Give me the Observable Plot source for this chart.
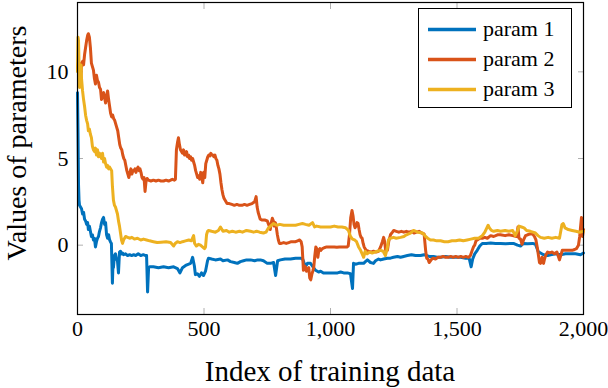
<!DOCTYPE html>
<html><head><meta charset="utf-8">
<script src="https://cdn.jsdelivr.net/npm/d3@7"></script>
<script src="https://cdn.jsdelivr.net/npm/@observablehq/plot@0.6"></script>
<style>body{margin:0;background:#fff} #chart svg{display:block}</style>
</head><body><div id="chart"></div>
<script>
const seriesNames = ["param 1", "param 2", "param 3"];
const seriesColors = ["#0072BD", "#D95319", "#EDB120"];
const xTicks = [0, 500, 1000, 1500, 2000];
const yTicks = [0, 5, 10];
const xLabel = "Index of training data";
const yLabel = "Values of parameters";

const param1 = [[0,8.8],[2,6.5],[4,3.5],[6,2.6],[8,2.3],[12,2.2],[16,2.1],[20,1.8],[24,1.9],[28,1.5],[32,1.4],[36,1.2],[40,1.3],[43,0.9],[47,1.1],[51,0.8],[55,0.5],[59,0.6],[63,0.3],[67,0.4],[71,-0.1],[75,0.2],[79,0.4],[83,0.5],[87,0.8],[91,1.0],[95,1.3],[99,1.5],[103,1.6],[107,1.2],[111,1.3],[115,0.6],[119,0.4],[123,0.6],[127,0.3],[130,0.2],[134,0.1],[138,-2.2],[140,-1.2],[142,-1.3],[146,-0.6],[150,-0.5],[154,-0.8],[158,-0.9],[162,-1.6],[164,-1.0],[166,-0.4],[170,-0.35],[174,-0.5],[178,-0.45],[182,-0.55],[190,-0.5],[198,-0.6],[206,-0.55],[214,-0.6],[222,-0.55],[230,-0.6],[240,-0.5],[250,-0.6],[260,-0.55],[269,-0.6],[273,-0.6],[277,-2.7],[281,-1.3],[285,-1.25],[300,-1.25],[320,-1.3],[340,-1.25],[360,-1.3],[380,-1.25],[395,-1.35],[405,-1.6],[415,-1.3],[430,-1.15],[447,-1.05],[455,-0.7],[462,-1.2],[466,-1.7],[474,-1.65],[482,-1.8],[490,-1.6],[498,-1.75],[506,-1.5],[514,-0.9],[518,-0.75],[530,-0.8],[545,-0.85],[565,-0.8],[575,-0.9],[593,-0.85],[605,-0.95],[620,-1.0],[632,-1.05],[644,-0.95],[656,-0.9],[668,-0.85],[684,-0.85],[700,-0.9],[712,-0.85],[723,-0.85],[735,-0.9],[750,-1.05],[763,-1.05],[775,-1.0],[783,-1.75],[791,-0.9],[802,-0.85],[820,-0.8],[842,-0.8],[862,-0.75],[882,-0.75],[890,-0.8],[901,-1.25],[909,-1.05],[921,-1.05],[933,-1.3],[941,-1.45],[953,-1.55],[961,-1.5],[972,-1.6],[988,-1.6],[1000,-1.6],[1012,-1.6],[1028,-1.6],[1040,-1.55],[1052,-1.6],[1067,-1.6],[1079,-1.65],[1087,-2.5],[1091,-1.05],[1099,-1.1],[1111,-1.05],[1119,-1.05],[1131,-1.05],[1138,-0.95],[1146,-0.85],[1158,-1.0],[1170,-1.05],[1178,-0.9],[1190,-0.8],[1198,-0.85],[1210,-0.8],[1225,-0.75],[1237,-0.75],[1249,-0.7],[1265,-0.65],[1277,-0.7],[1289,-0.65],[1304,-0.6],[1320,-0.55],[1336,-0.6],[1356,-0.6],[1370,-0.55],[1390,-0.65],[1407,-0.65],[1420,-0.7],[1435,-0.7],[1455,-0.65],[1474,-0.7],[1494,-0.7],[1514,-0.7],[1534,-0.75],[1548,-0.75],[1556,-1.25],[1562,-0.8],[1570,-0.5],[1580,-0.3],[1590,-0.05],[1600,0.1],[1615,0.1],[1633,0.12],[1652,0.1],[1672,0.1],[1692,0.08],[1712,0.1],[1723,0.1],[1739,0.0],[1751,-0.05],[1763,0.1],[1779,0.08],[1799,0.1],[1810,0.05],[1822,-0.4],[1830,-0.45],[1842,-0.55],[1858,-0.6],[1870,-0.55],[1890,-0.5],[1909,-0.55],[1929,-0.5],[1949,-0.5],[1968,-0.5],[1988,-0.55],[2000,-0.45]];

const param2 = [[0,10.2],[4,10.6],[8,10.0],[12,9.4],[16,10.5],[20,10.6],[24,10.4],[28,11.0],[32,11.4],[36,11.8],[40,12.1],[43,12.2],[47,12.0],[51,11.4],[55,10.5],[59,10.3],[63,10.1],[67,9.6],[71,9.3],[75,9.8],[79,9.5],[83,9.4],[87,9.1],[91,9.0],[95,8.4],[99,8.7],[103,8.8],[107,8.5],[111,8.2],[115,8.6],[119,8.9],[123,8.4],[127,8.0],[131,7.6],[135,7.4],[139,7.5],[143,7.3],[147,7.2],[151,7.0],[155,6.8],[159,6.6],[163,6.2],[167,5.8],[171,5.6],[175,5.5],[179,5.2],[183,5.0],[187,4.9],[191,4.6],[195,4.3],[199,4.1],[203,3.9],[207,4.2],[211,4.4],[215,4.1],[219,4.3],[223,4.3],[227,4.4],[231,4.2],[235,4.4],[239,4.5],[243,4.3],[247,4.4],[251,4.2],[255,3.9],[259,3.8],[263,3.9],[267,3.1],[271,3.7],[275,3.85],[280,3.75],[290,3.7],[300,3.75],[310,3.7],[320,3.75],[330,3.7],[340,3.7],[350,3.75],[360,3.7],[368,3.75],[375,3.8],[383,3.75],[387,3.8],[391,5.5],[395,5.9],[399,6.2],[403,5.8],[407,5.5],[411,5.4],[415,5.3],[419,5.5],[423,5.2],[427,5.2],[431,5.4],[435,5.1],[439,5.2],[443,5.0],[447,5.1],[451,4.9],[455,5.0],[459,4.8],[463,4.6],[467,4.3],[471,4.1],[475,3.9],[479,4.0],[483,3.8],[487,4.2],[491,4.0],[495,3.6],[499,4.2],[503,3.9],[507,4.7],[511,4.9],[515,5.1],[519,5.2],[523,5.15],[527,5.3],[531,5.2],[535,5.2],[539,5.1],[543,5.2],[547,5.0],[551,4.9],[555,4.6],[559,4.4],[563,4.1],[567,3.6],[571,3.2],[575,2.9],[579,2.7],[583,2.6],[587,2.5],[591,2.4],[600,2.4],[610,2.35],[620,2.3],[630,2.35],[640,2.3],[650,2.3],[660,2.35],[670,2.3],[680,2.35],[690,2.4],[700,2.5],[706,2.8],[710,2.2],[714,1.9],[718,1.7],[722,1.5],[730,1.45],[740,1.45],[750,1.4],[758,1.1],[762,0.9],[766,1.3],[770,1.55],[774,1.4],[778,1.1],[782,1.3],[786,1.0],[790,0.6],[794,0.3],[798,0.1],[805,0.1],[815,0.15],[825,0.1],[835,0.15],[845,0.2],[855,0.2],[862,0.2],[870,0.25],[878,0.3],[884,0.2],[888,-0.1],[893,-1.45],[897,-1.2],[901,-1.25],[905,-1.5],[909,-1.4],[914,-1.3],[918,-1.9],[922,-2.0],[926,-1.7],[930,-1.5],[934,-1.25],[938,-0.6],[942,-0.1],[946,-0.2],[950,-0.7],[954,-0.3],[958,-0.2],[962,-0.3],[968,-0.2],[975,-0.15],[985,-0.1],[995,-0.1],[1005,-0.1],[1015,-0.1],[1025,-0.12],[1035,-0.1],[1045,-0.1],[1055,-0.1],[1065,-0.1],[1070,-0.05],[1075,0.6],[1080,1.6],[1085,2.0],[1089,1.7],[1093,1.2],[1097,1.0],[1101,1.1],[1105,1.3],[1109,1.25],[1113,0.9],[1117,0.6],[1121,0.45],[1125,0.4],[1129,0.1],[1133,-0.1],[1137,-0.2],[1141,-0.3],[1150,-0.35],[1160,-0.4],[1170,-0.35],[1180,-0.4],[1190,-0.35],[1198,-0.1],[1205,0.2],[1210,0.45],[1214,0.2],[1218,-0.3],[1225,-0.3],[1230,0.2],[1237,0.6],[1245,0.75],[1250,0.85],[1260,0.8],[1270,0.75],[1280,0.8],[1290,0.75],[1300,0.8],[1310,0.75],[1320,0.8],[1330,0.7],[1340,0.75],[1350,0.8],[1360,0.7],[1370,0.65],[1376,-0.3],[1380,-0.75],[1385,-0.8],[1390,-1.0],[1395,-0.9],[1400,-0.8],[1407,-0.75],[1415,-0.8],[1425,-0.7],[1435,-0.7],[1445,-0.65],[1455,-0.7],[1465,-0.7],[1475,-0.65],[1485,-0.7],[1495,-0.65],[1505,-0.7],[1515,-0.65],[1525,-0.7],[1535,-0.65],[1545,-0.7],[1553,-0.6],[1560,-0.3],[1565,-0.1],[1570,0.0],[1575,0.25],[1580,0.3],[1590,0.4],[1600,0.4],[1610,0.45],[1620,0.4],[1633,0.55],[1645,0.5],[1660,0.6],[1672,0.6],[1690,0.55],[1705,0.6],[1720,0.55],[1735,0.5],[1741,1.05],[1745,0.4],[1751,0.35],[1757,0.05],[1763,0.3],[1771,0.55],[1779,0.6],[1790,0.65],[1799,0.65],[1806,0.5],[1812,0.3],[1818,-0.2],[1822,-0.6],[1826,-1.0],[1830,-1.05],[1836,-0.7],[1842,-1.05],[1846,-0.8],[1850,-0.6],[1858,-0.4],[1866,-0.45],[1875,-0.4],[1885,-0.5],[1895,-0.4],[1905,-0.85],[1910,-0.6],[1916,-0.3],[1925,-0.3],[1935,-0.3],[1945,-0.3],[1955,-0.3],[1965,-0.25],[1972,-0.2],[1980,0.0],[1985,0.5],[1988,1.0],[1992,1.6],[1996,0.5],[2000,0.9]];

const param3 = [[0,10.0],[2,12.0],[4,11.8],[6,10.5],[8,9.1],[10,10.2],[12,9.8],[14,10.4],[16,9.6],[20,8.9],[24,8.4],[28,8.0],[32,7.5],[36,7.2],[40,7.0],[43,6.6],[47,6.7],[51,6.4],[55,6.2],[59,5.7],[63,5.5],[67,5.4],[71,5.6],[75,5.2],[79,5.5],[83,5.1],[87,5.3],[91,5.2],[95,5.0],[99,5.3],[103,4.8],[107,5.0],[111,4.7],[115,4.5],[119,4.6],[123,4.4],[127,4.5],[131,4.4],[135,4.3],[138,3.4],[142,2.6],[146,2.3],[150,2.2],[154,2.0],[158,1.8],[162,1.4],[166,1.1],[170,0.7],[174,0.3],[178,0.1],[182,0.3],[186,0.4],[190,0.5],[198,0.45],[206,0.4],[215,0.45],[225,0.35],[237,0.4],[250,0.3],[261,0.35],[273,0.3],[285,0.25],[300,0.2],[315,0.15],[330,0.17],[350,0.2],[368,0.15],[380,-0.05],[386,0.1],[395,0.2],[405,0.15],[415,0.2],[427,0.25],[440,0.3],[450,0.25],[459,0.55],[463,0.1],[470,-0.05],[478,0.05],[486,0.0],[494,-0.1],[502,-0.2],[506,-0.1],[510,0.6],[514,0.8],[518,0.85],[530,0.8],[545,0.75],[557,0.85],[565,1.05],[575,0.8],[589,0.85],[600,0.75],[612,0.8],[625,0.75],[640,0.8],[652,0.75],[668,0.85],[684,0.8],[696,0.75],[708,0.8],[720,0.75],[735,0.7],[745,0.75],[755,1.0],[763,1.1],[775,1.25],[787,1.15],[800,1.2],[815,1.15],[830,1.15],[845,1.15],[862,1.15],[875,1.2],[889,1.25],[901,1.2],[915,1.15],[929,1.3],[937,1.05],[945,1.1],[961,1.05],[975,1.05],[990,1.05],[1000,1.05],[1015,1.1],[1030,1.05],[1045,1.05],[1060,1.0],[1071,0.85],[1079,0.5],[1087,0.35],[1095,0.3],[1103,0.2],[1111,-0.1],[1119,-0.3],[1131,-0.7],[1137,-0.35],[1145,-0.5],[1155,-0.4],[1165,-0.45],[1175,-0.4],[1185,-0.35],[1198,-0.3],[1208,-0.35],[1217,-0.6],[1224,-0.2],[1229,0.3],[1237,0.4],[1249,0.45],[1260,0.4],[1277,0.45],[1290,0.5],[1300,0.6],[1316,0.7],[1328,0.85],[1345,0.75],[1364,0.7],[1376,0.5],[1384,0.4],[1395,0.3],[1407,0.3],[1420,0.25],[1435,0.25],[1450,0.2],[1465,0.2],[1480,0.25],[1495,0.25],[1510,0.3],[1525,0.25],[1540,0.3],[1555,0.35],[1570,0.4],[1585,0.4],[1600,0.55],[1610,0.75],[1618,1.0],[1623,1.15],[1628,1.0],[1636,0.85],[1645,0.8],[1660,0.85],[1672,0.8],[1690,0.85],[1705,0.8],[1720,0.85],[1730,0.55],[1737,0.75],[1745,1.1],[1755,1.05],[1765,1.0],[1775,0.85],[1790,0.8],[1800,0.75],[1810,0.7],[1820,0.55],[1830,0.45],[1845,0.4],[1860,0.45],[1875,0.4],[1890,0.45],[1905,0.4],[1915,1.2],[1920,1.25],[1927,1.0],[1940,0.9],[1955,0.85],[1970,0.8],[1985,0.75],[2000,0.8]];

const seriesData = [param1, param2, param3];
const rows = seriesData.flatMap((s, i) => s.map(([x, y]) => ({series: seriesNames[i], x, y})));

const font = "'Liberation Serif', 'Times New Roman', serif";
const W = 608, H = 388, ML = 77, MR = 25, MT = 2, MB = 74;

const plot = Plot.plot({
  width: W, height: H,
  marginLeft: ML, marginRight: MR, marginTop: MT, marginBottom: MB,
  style: {fontFamily: font, fontSize: "22px", color: "black", background: "white"},
  x: {domain: [0, 2000]},
  y: {domain: [-4, 14]},
  color: {domain: seriesNames, range: seriesColors},
  marks: [
    Plot.axisX({anchor: "bottom", ticks: xTicks, tickSize: -6, stroke: "#b0b0b0", tickFormat: () => "", label: null}),
    Plot.axisX({anchor: "top", ticks: xTicks, tickSize: -6, stroke: "#b0b0b0", tickFormat: () => "", label: null}),
    Plot.axisY({anchor: "left", ticks: yTicks, tickSize: -6, stroke: "#b0b0b0", tickFormat: () => "", label: null}),
    Plot.axisY({anchor: "right", ticks: yTicks, tickSize: -6, stroke: "#b0b0b0", tickFormat: () => "", label: null}),
    Plot.axisX({anchor: "bottom", ticks: xTicks, tickSize: 0, tickPadding: 6, tickFormat: d3.format(","), label: null, fill: "black", fontFamily: font, fontSize: 22}),
    Plot.axisY({anchor: "left", ticks: yTicks, tickSize: 0, tickPadding: 9, label: null, fill: "black", fontFamily: font, fontSize: 22}),
    Plot.line(rows, {x: "x", y: "y", stroke: "series", z: "series", strokeWidth: 3, strokeLinejoin: "round"}),
    Plot.frame({stroke: "black", strokeWidth: 1.2})
  ]
});

document.getElementById("chart").append(plot);

const svg = d3.select(plot);
const cx = (ML + (W - MR)) / 2;

svg.append("text").attr("x", cx).attr("y", 381).attr("text-anchor", "middle")
  .style("font-family", font).style("font-size", "29px").attr("fill", "black").text(xLabel);
svg.append("text").attr("transform", `translate(25.5,143) rotate(-90)`).attr("text-anchor", "middle")
  .style("font-family", font).style("font-size", "28px").attr("fill", "black").text(yLabel);

// legend
const lg = svg.append("g");
lg.append("rect").attr("x", 418.5).attr("y", 8.5).attr("width", 153).attr("height", 99)
  .attr("fill", "white").attr("stroke", "black").attr("stroke-width", 1);
seriesNames.forEach((name, i) => {
  const yy = 29.5 + i * 30;
  lg.append("line").attr("x1", 428).attr("x2", 476).attr("y1", yy).attr("y2", yy)
    .attr("stroke", seriesColors[i]).attr("stroke-width", 3.5);
  lg.append("text").attr("x", 483).attr("y", yy + 6.5).attr("text-anchor", "start")
    .style("font-family", font).style("font-size", "22px").attr("fill", "black").text(name);
});
</script>
</body></html>
